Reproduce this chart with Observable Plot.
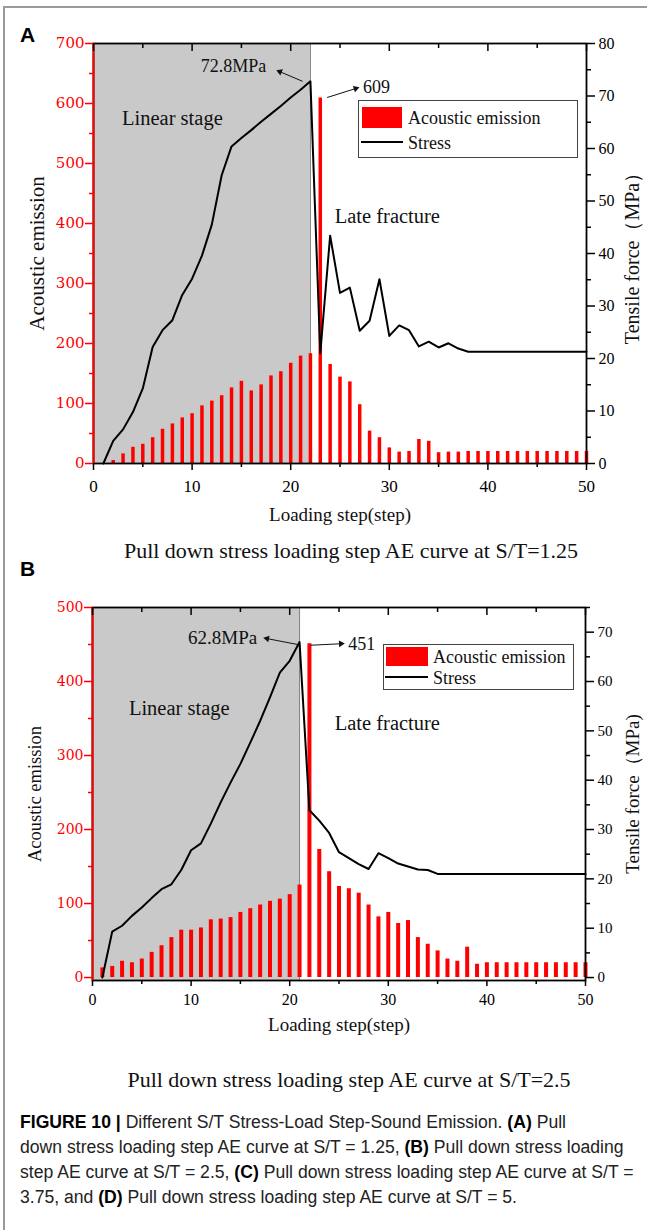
<!DOCTYPE html>
<html><head><meta charset="utf-8">
<script src="https://cdn.jsdelivr.net/npm/d3@7"></script>
<script src="https://cdn.jsdelivr.net/npm/@observablehq/plot@0.6"></script>
<style>
body{margin:0;background:#fff;}
#page{position:relative;width:647px;height:1230px;overflow:hidden;background:#fff;}
.abs{position:absolute;}
.serif{font-family:'Liberation Serif','Times New Roman',serif;color:#111;white-space:nowrap;}
.cap{font-family:'Liberation Sans',Arial,sans-serif;font-size:17.6px;line-height:25px;color:#222;white-space:nowrap;left:20px;}
.cap b{color:#000;}
.plab{font-family:'Liberation Sans',Arial,sans-serif;font-weight:bold;font-size:21px;line-height:21px;color:#000;}
.lbox{border:1px solid #444;background:#fff;}
</style></head><body><div id="page"></div>
<script>
// ---------- data ----------
const steps = d3.range(1, 51);
const xTicks = [0, 10, 20, 30, 40, 50];
const xMinor = [5, 15, 25, 35, 45];

// Panel A (S/T = 1.25)
const aeA = [0, 5, 16, 27, 32, 43, 57, 66, 76, 83, 96, 104, 113, 126, 137, 121, 131, 146, 153, 167,
  179, 183, 609, 165, 144, 136, 98, 54, 43, 26, 19, 20, 40, 37, 18, 19, 19, 20, 20, 20,
  20, 20, 20, 20, 20, 20, 20, 20, 20, 20];
const stressA = [0, 4.3, 6.5, 9.8, 14.3, 22.2, 25.4, 27.3, 32.1, 35.2, 39.6, 45.5, 54.9, 60.4, 62.0, 63.5, 65.1, 66.6, 68.1, 69.7,
  71.2, 72.8, 21.0, 43.4, 32.5, 33.5, 25.3, 27.2, 35.1, 24.3, 26.3, 25.4, 22.3, 23.2, 22.1, 22.9, 21.9, 21.3, 21.3, 21.3,
  21.3, 21.3, 21.3, 21.3, 21.3, 21.3, 21.3, 21.3, 21.3, 21.3];
const aeTicksA = [0, 100, 200, 300, 400, 500, 600, 700];
const aeMinorA = [50, 150, 250, 350, 450, 550, 650];
const stressTicksA = [0, 10, 20, 30, 40, 50, 60, 70, 80];
const stressMinorA = [5, 15, 25, 35, 45, 55, 65, 75];
const notesA = [
  {label: "72.8MPa", x: 14.2, y: 662, size: 18},
  {label: "609", x: 28.7, y: 627, size: 18},
  {label: "Linear stage", x: 8.0, y: 575, size: 20.5},
  {label: "Late fracture", x: 29.8, y: 412, size: 20.5}
];
const arrowsA = [
  {x1: 21.2, y1: 637, x2: 18.9, y2: 653},
  {x1: 23.7, y1: 610, x2: 26.6, y2: 625}
];

// Panel B (S/T = 2.5)
const aeB = [13, 15, 22, 20, 25, 34, 43, 54, 64, 64, 67, 78, 79, 81, 88, 93, 98, 103, 106, 112,
  125, 451, 173, 143, 123, 120, 114, 98, 82, 88, 73, 77, 54, 45, 36, 25, 22, 41, 18, 20,
  20, 20, 20, 20, 20, 20, 20, 20, 20, 20];
const stressB = [0, 9.3, 10.5, 12.5, 14.2, 16.1, 17.9, 18.9, 21.8, 25.8, 27.2, 31.2, 35.5, 39.5, 43.3, 47.6, 52.0, 56.8, 61.8, 64.2,
  68.0, 33.9, 31.8, 29.3, 25.4, 24.2, 23.0, 22.0, 25.2, 24.2, 23.1, 22.5, 21.9, 21.8, 21.0, 21.0, 21.0, 21.0, 21.0, 21.0,
  21.0, 21.0, 21.0, 21.0, 21.0, 21.0, 21.0, 21.0, 21.0, 21.0];
const aeTicksB = [0, 100, 200, 300, 400, 500];
const aeMinorB = [50, 150, 250, 350, 450];
const stressTicksB = [0, 10, 20, 30, 40, 50, 60, 70];
const stressMinorB = [5, 15, 25, 35, 45, 55, 65, 75];
const notesB = [
  {label: "62.8MPa", x: 13.2, y: 459.5, size: 19},
  {label: "451", x: 27.3, y: 450, size: 18},
  {label: "Linear stage", x: 8.8, y: 363.5, size: 20.5},
  {label: "Late fracture", x: 29.9, y: 343, size: 20.5}
];
const arrowsB = [
  {x1: 20.8, y1: 450, x2: 17.7, y2: 458},
  {x1: 22.1, y1: 449, x2: 25.2, y2: 451}
];

const SERIF = "'Liberation Serif','Times New Roman',serif";

// ---------- chart builder ----------
function makePanel(c) {
  const data = steps.map((s, i) => ({step: s, ae: c.ae[i], stress: c.stress[i]}));
  const k = c.aeMax / c.stressMax;
  const frameH = c.height - c.mt - c.mb;
  const pxX = (647 - c.ml - c.mr) / 50;
  const pxY = frameH / (c.aeMax - c.aeMin);
  // screen angle of each annotation arrow, for a filled head
  const heads = c.arrows.map(a => ({
    x: a.x2, y: a.y2,
    angle: Math.atan2((a.x2 - a.x1) * pxX, (a.y2 - a.y1) * pxY) * 180 / Math.PI
  }));
  return Plot.plot({
    width: 647, height: c.height,
    marginTop: c.mt, marginBottom: c.mb, marginLeft: c.ml, marginRight: c.mr,
    x: {domain: [0, 50]},
    y: {domain: [c.aeMin, c.aeMax]},
    style: {fontFamily: SERIF, fontSize: "16px", background: "transparent", overflow: "visible", color: "#000"},
    marks: [
      Plot.rect([{x1: 0, x2: c.shadeEnd, y1: c.aeMin, y2: c.aeMax}], {x1: "x1", x2: "x2", y1: "y1", y2: "y2", fill: "#c9c9c9"}),
      Plot.ruleX([c.shadeEnd], {stroke: "#808080", strokeWidth: 1}),
      Plot.ruleX(data, {x: "step", y1: 0, y2: "ae", stroke: "#ff0000", strokeWidth: c.barW}),
      Plot.line(data, {x: "step", y: d => d.stress * k, stroke: "#000", strokeWidth: 2}),
      Plot.frame({stroke: "#000", strokeWidth: 1.8}),
      Plot.ruleX([0], {stroke: "#ff0000", strokeWidth: 2}),
      // x axis (bottom, outward) and mirrored inward ticks on top
      Plot.axisX({ticks: xTicks, anchor: "bottom", tickSize: c.xTick, tickPadding: c.xPad, fontSize: c.xFont, fontFamily: SERIF, strokeWidth: 1.5, label: null}),
      Plot.axisX({ticks: xMinor, anchor: "bottom", tickSize: 4, tickFormat: () => "", strokeWidth: 1.5, label: null}),
      Plot.tickX(xTicks, {x: d => d, insetBottom: frameH - 8, stroke: "#000", strokeWidth: 1.5}),
      Plot.tickX(xMinor, {x: d => d, insetBottom: frameH - 5, stroke: "#000", strokeWidth: 1.5}),
      // left axis (red)
      Plot.axisY({ticks: c.aeTicks, anchor: "left", tickSize: 8, tickPadding: c.lPad, color: "#ff0000", fontSize: c.lFont, fontFamily: "'DejaVu Serif',serif", strokeWidth: 1.5, label: null}),
      Plot.axisY({ticks: c.aeMinor, anchor: "left", tickSize: 4, tickFormat: () => "", color: "#ff0000", strokeWidth: 1.5, label: null}),
      // right axis (stress)
      Plot.axisY({ticks: c.stressTicks.map(v => v * k), anchor: "right", tickSize: 8, tickPadding: 4, tickFormat: d => String(Math.round(d / k)), fontSize: c.rFont, fontFamily: SERIF, strokeWidth: 1.5, label: null}),
      Plot.axisY({ticks: c.stressMinor.map(v => v * k), anchor: "right", tickSize: 4, tickFormat: () => "", strokeWidth: 1.5, label: null}),
      // axis titles
      Plot.text(["Acoustic emission"], {frameAnchor: "left", textAnchor: "middle", dx: c.lDx, rotate: -90, fontSize: c.lTitle, fontFamily: SERIF, fill: "#111"}),
      Plot.text([c.rightLabel], {frameAnchor: "right", textAnchor: "middle", dx: c.rDx, rotate: -90, fontSize: c.rTitle, fontFamily: SERIF, fill: "#111"}),
      Plot.text(["Loading step(step)"], {frameAnchor: "bottom", textAnchor: "middle", dy: c.xDy, fontSize: 19, fontFamily: SERIF, fill: "#111"}),
      // annotations
      Plot.text(c.notes, {x: "x", y: "y", text: "label", fontSize: "size", fontFamily: SERIF, fill: "#111"}),
      Plot.link(c.arrows, {x1: "x1", y1: "y1", x2: "x2", y2: "y2", stroke: "#111", strokeWidth: 1}),
      Plot.dot(heads, {x: "x", y: "y", symbol: "triangle2", r: 3.2, rotate: "angle", fill: "#111", stroke: "none"})
    ]
  });
}

const page = document.getElementById("page");
function add(html, style, cls) {
  const d = document.createElement("div");
  d.className = "abs " + (cls || "");
  d.innerHTML = html;
  Object.assign(d.style, style);
  page.appendChild(d);
  return d;
}

// outer figure border
add("", {left: "3px", top: "6px", width: "700px", height: "1300px", borderLeft: "2px solid #9a9a9a", borderTop: "2px solid #9a9a9a"});

const svgA = makePanel({
  ae: aeA, stress: stressA, aeMin: 0, aeMax: 700, stressMax: 80, shadeEnd: 22,
  aeTicks: aeTicksA, aeMinor: aeMinorA, stressTicks: stressTicksA, stressMinor: stressMinorA,
  height: 535, mt: 43, mb: 72, ml: 93, mr: 61, barW: 3.5,
  xTick: 7, xPad: 9, xFont: 17, lPad: 1, lFont: 15, rFont: 16,
  lDx: -56, rDx: 46, lTitle: 21, rTitle: 20, xDy: 57,
  rightLabel: "Tensile force（MPa）", notes: notesA, arrows: arrowsA
});
const wa = add("", {left: "0px", top: "0px"});
wa.appendChild(svgA);

const svgB = makePanel({
  ae: aeB, stress: stressB, aeMin: -4, aeMax: 500, stressMax: 75, shadeEnd: 21,
  aeTicks: aeTicksB, aeMinor: aeMinorB, stressTicks: stressTicksB, stressMinor: stressMinorB,
  height: 490, mt: 47, mb: 70, ml: 92, mr: 62, barW: 4,
  xTick: 6, xPad: 7, xFont: 16, lPad: 1, lFont: 14, rFont: 15,
  lDx: -57, rDx: 47, lTitle: 18.5, rTitle: 19, xDy: 50,
  rightLabel: "Tensile force（MPa)", notes: notesB, arrows: arrowsB
});
const wb = add("", {left: "0px", top: "560px"});
wb.appendChild(svgB);

// panel letters
add("A", {left: "20px", top: "24px"}, "plab");
add("B", {left: "20px", top: "558px"}, "plab");

// legends
add("", {left: "358px", top: "100px", width: "218px", height: "56px"}, "lbox");
add("", {left: "362px", top: "107px", width: "40px", height: "21px", background: "#ff0000"});
add("", {left: "361px", top: "141px", width: "42px", height: "2px", background: "#000"});
add("Acoustic emission", {left: "408px", top: "108px", fontSize: "18px", lineHeight: "20px"}, "serif");
add("Stress", {left: "408px", top: "133px", fontSize: "18px", lineHeight: "20px"}, "serif");

add("", {left: "383px", top: "644px", width: "189px", height: "44px"}, "lbox");
add("", {left: "386px", top: "647px", width: "42px", height: "19px", background: "#ff0000"});
add("", {left: "385px", top: "676px", width: "43px", height: "2px", background: "#000"});
add("Acoustic emission", {left: "433px", top: "647px", fontSize: "18px", lineHeight: "20px"}, "serif");
add("Stress", {left: "433px", top: "668px", fontSize: "18px", lineHeight: "20px"}, "serif");

// subtitles
add("Pull down stress loading step AE curve at S/T=1.25", {left: "351px", top: "538px", transform: "translateX(-50%)", fontSize: "22px", lineHeight: "26px"}, "serif");
add("Pull down stress loading step AE curve at S/T=2.5", {left: "349px", top: "1067px", transform: "translateX(-50%)", fontSize: "22px", lineHeight: "26px"}, "serif");

// caption
const capLines = [
  "<b>FIGURE 10 |</b> Different S/T Stress-Load Step-Sound Emission. <b>(A)</b> Pull",
  "down stress loading step AE curve at S/T = 1.25, <b>(B)</b> Pull down stress loading",
  "step AE curve at S/T = 2.5, <b>(C)</b> Pull down stress loading step AE curve at S/T =",
  "3.75, and <b>(D)</b> Pull down stress loading step AE curve at S/T = 5."
];
capLines.forEach((t, i) => add(t, {top: (1109.5 + 25 * i) + "px"}, "cap"));
</script>
</body></html>
